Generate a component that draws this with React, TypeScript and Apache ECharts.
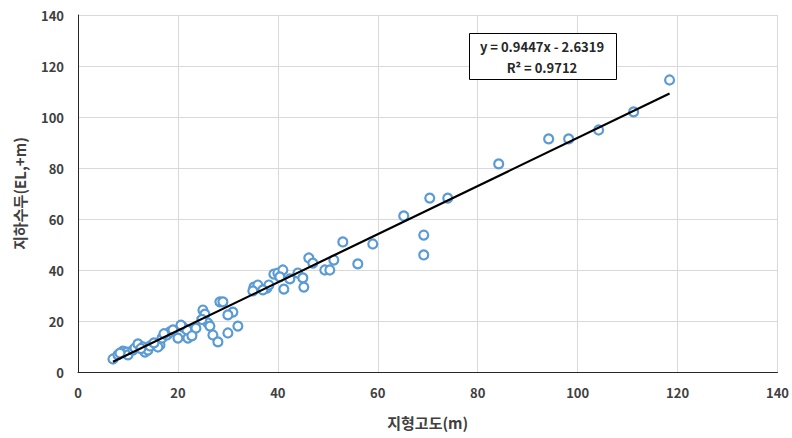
import React, { useEffect, useRef } from "react";
import * as echarts from "echarts";

// 지형고도(m) vs 지하수두(EL,+m)
const elevation: number[] = [
  7, 8, 9, 9.8, 10, 11, 11.4, 12, 13, 13.4, 14, 14.4, 16.4, 16.8, 16, 17.8, 18.4, 19, 20,
  21, 22.4, 22, 23, 21.8, 25, 25.4, 26, 26.4, 27, 28, 30, 32, 28.4, 29, 31, 30,
  35.2, 36, 35, 37.8, 38.2, 37, 39.2, 40, 41, 40.4, 41.2, 42.4, 44, 45, 45.2,
  46.2, 47, 49.4, 50.4, 51.2, 53, 56, 59, 65.2, 69.2, 69.2, 70.4, 74, 84.2,
  94.2, 98.2, 104.2, 111.2, 118.4,
  8.4, 12.6, 15.2, 17.2, 20.6, 23.6, 24.8, 22.8,
];
const groundwater: number[] = [
  5.1, 6.7, 8.2, 7.8, 6.7, 8.6, 9.4, 11, 9.8, 7.8, 8.6, 10.2, 10.6, 13.3, 9.8, 14.5, 15.7, 16.5, 13.3,
  17.6, 15.3, 13.3, 16.5, 16.5, 24.3, 22.7, 19.2, 18, 14.5, 11.8, 15.3, 18, 27.5, 27.5, 23.5, 22.4,
  33.3, 34.1, 31.8, 32.9, 34.1, 32.2, 38.4, 38.8, 40, 37.3, 32.5, 36.5, 38.8, 36.9, 33.3,
  44.7, 42.7, 40, 40, 43.9, 51, 42.4, 50.2, 61.2, 53.7, 45.9, 68.2, 68.2, 81.6,
  91.4, 91.4, 94.9, 102, 114.5,
  7.4, 9.2, 11.4, 15, 18.4, 17.2, 20.6, 14.2,
];
const xTicks: number[] = [0, 20, 40, 60, 80, 100, 120, 140];
const yTicks: number[] = [0, 20, 40, 60, 80, 100, 120, 140];
const slope = 0.9447;
const intercept = -2.6319;
const rSquared = 0.9712;

export default function App() {
  const ref = useRef<HTMLDivElement>(null);
  useEffect(() => {
    if (!ref.current) return;
    const chart = echarts.init(ref.current, undefined, { renderer: "svg" });
    const points = elevation.map((x, i) => [x, groundwater[i]]);
    const xMin = Math.min(...elevation);
    const xMax = Math.max(...elevation);
    const trend = [
      [xMin, slope * xMin + intercept],
      [xMax, slope * xMax + intercept],
    ];
    const font = "'Noto Sans CJK KR', 'Noto Sans', sans-serif";
    chart.setOption({
      animation: false,
      backgroundColor: "#ffffff",
      grid: { left: 78, right: 14, top: 15, bottom: 66, containLabel: false },
      xAxis: {
        type: "value",
        min: xTicks[0],
        max: xTicks[xTicks.length - 1],
        interval: 20,
        name: "지형고도(m)",
        nameLocation: "middle",
        nameGap: 43,
        nameTextStyle: { fontFamily: font, fontSize: 15, fontWeight: "bold", color: "#404040" },
        axisLine: { show: true, lineStyle: { color: "#262626", width: 1 } },
        axisTick: { show: false },
        axisLabel: { fontFamily: font, fontSize: 13, fontWeight: "bold", color: "#404040", margin: 14 },
        splitLine: { show: true, lineStyle: { color: "#d9d9d9", width: 1 } },
      },
      yAxis: {
        type: "value",
        min: yTicks[0],
        max: yTicks[yTicks.length - 1],
        interval: 20,
        name: "지하수두(EL,+m)",
        nameLocation: "middle",
        nameGap: 51,
        nameRotate: 90,
        nameTextStyle: { fontFamily: font, fontSize: 15, fontWeight: "bold", color: "#404040" },
        axisLine: { show: true, lineStyle: { color: "#262626", width: 1 } },
        axisTick: { show: false },
        axisLabel: { fontFamily: font, fontSize: 13, fontWeight: "bold", color: "#404040", margin: 14 },
        splitLine: { show: true, lineStyle: { color: "#d9d9d9", width: 1 } },
      },
      series: [
        {
          type: "scatter",
          data: points,
          symbol: "circle",
          symbolSize: 9,
          itemStyle: { color: "#ffffff", borderColor: "#5B9BD5", borderWidth: 2.2, opacity: 1 },
          z: 2,
        },
        {
          type: "line",
          data: trend,
          symbol: "none",
          lineStyle: { color: "#000000", width: 2.2 },
          z: 3,
        },
      ],
      graphic: [
        {
          type: "rect",
          left: 469,
          top: 33,
          shape: { width: 147, height: 46 },
          style: { fill: "#ffffff", stroke: "#000000", lineWidth: 1 },
          z: 10,
        },
        {
          type: "text",
          x: 542,
          y: 46,
          style: {
            text: `y = ${slope}x - ${Math.abs(intercept)}`,
            fontFamily: font,
            fontSize: 13,
            fontWeight: "bold",
            fill: "#262626",
            align: "center",
            verticalAlign: "middle",
          },
          z: 11,
        },
        {
          type: "text",
          x: 542,
          y: 67,
          style: {
            text: `R² = ${rSquared}`,
            fontFamily: font,
            fontSize: 13,
            fontWeight: "bold",
            fill: "#262626",
            align: "center",
            verticalAlign: "middle",
          },
          z: 11,
        },
      ],
    });
    return () => chart.dispose();
  }, []);
  return <div ref={ref} style={{ width: 792, height: 438, position: "absolute", left: 0, top: 0 }} />;
}
